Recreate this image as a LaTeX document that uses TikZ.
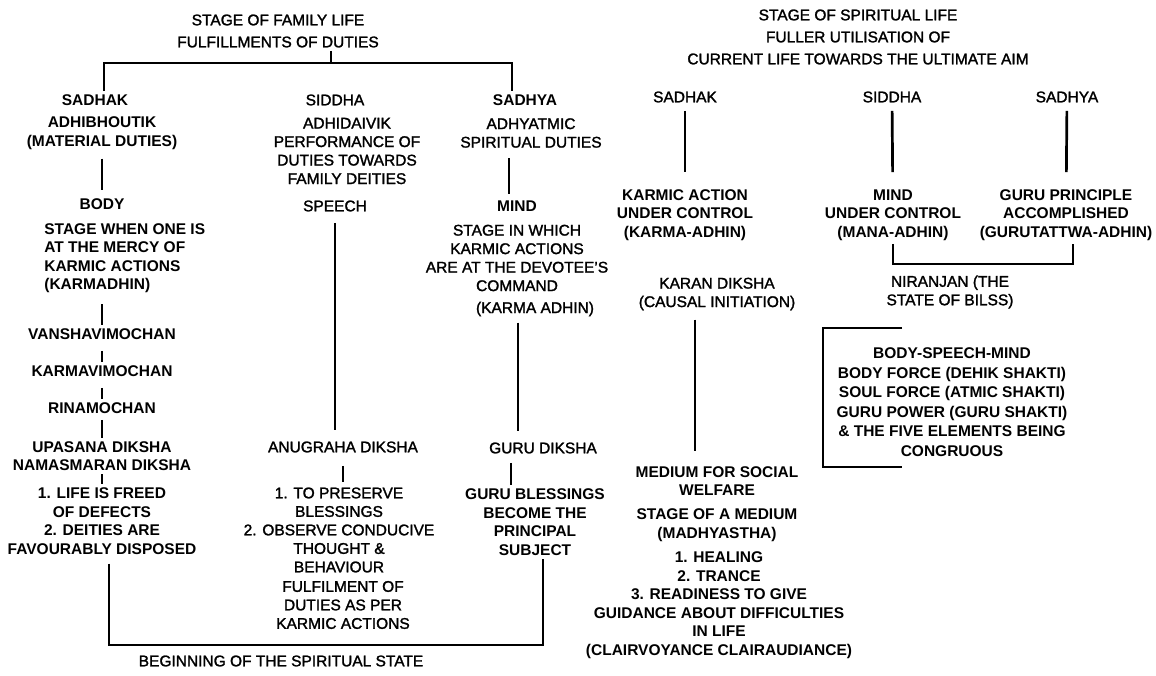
\documentclass[tikz,border=0pt]{standalone}
\usepackage{fontspec}
\setmainfont{Liberation Sans}[UprightFeatures={FakeBold=1.6}]
\newfontfamily\heavyfont{Liberation Sans Bold}
\usetikzlibrary{positioning}

\newcommand{\lblfont}{\fontsize{15.5}{18.5}\selectfont}
\newcommand{\ttlfont}{\fontsize{15.5}{22}\selectfont}
\newcommand{\boxfont}{\fontsize{15.5}{19.5}\selectfont}

\begin{document}
\begin{tikzpicture}[x=1pt,y=-1pt,line width=2.7pt,
    lbl/.style={font=\lblfont,align=center,inner sep=2pt},
    blbl/.style={font=\lblfont\heavyfont,align=center,inner sep=2pt},
    ttl/.style={font=\ttlfont,align=center,inner sep=2pt}]

  \path[use as bounding box,fill=white] (0,0) rectangle (1156,676);

  % stage of family life
  \node[ttl] (famTitle) at (278,31) {STAGE OF FAMILY LIFE\\FULFILLMENTS OF DUTIES};
  \coordinate (famBar) at (331,63);
  \node[blbl] (sadhakF) at (95,100) {SADHAK};
  \node[lbl] (siddhaF) at (335,100) {SIDDHA};
  \node[blbl] (sadhyaF) at (525,100) {SADHYA};

  \node[blbl] (adhib) [below of=sadhakF,node distance=33pt,xshift=7pt] {ADHIBHOUTIK\\(MATERIAL DUTIES)};
  \node[blbl] (body) [below of=adhib,node distance=71pt] {BODY};
  \node[blbl,align=left,anchor=west] (mercy) at (41,258) {STAGE WHEN ONE IS\\AT THE MERCY OF\\KARMIC ACTIONS\\(KARMADHIN)};
  \node[blbl] (vansha) [below of=body,node distance=130pt] {VANSHAVIMOCHAN};
  \node[blbl] (karmav) [below of=vansha,node distance=37pt] {KARMAVIMOCHAN};
  \node[blbl] (rina) [below of=karmav,node distance=37pt] {RINAMOCHAN};
  \node[blbl] (upasana) [below of=rina,node distance=48pt] {UPASANA DIKSHA\\NAMASMARAN DIKSHA};
  \node[blbl] (lifeF) [below of=upasana,node distance=65pt] {1. LIFE IS FREED\\OF DEFECTS\\2. DEITIES ARE\\FAVOURABLY DISPOSED};

  \node[lbl] (adhid) [below of=siddhaF,node distance=51pt,xshift=12pt] {ADHIDAIVIK\\PERFORMANCE OF\\DUTIES TOWARDS\\FAMILY DEITIES};
  \node[lbl] (speech) [below of=siddhaF,node distance=106pt] {SPEECH};
  \node[lbl] (anugraha) [below of=speech,node distance=241pt,xshift=8pt] {ANUGRAHA DIKSHA};
  \node[lbl] (preserve) [below of=anugraha,node distance=83pt,xshift=-4pt] {1. TO PRESERVE\\BLESSINGS\\2. OBSERVE CONDUCIVE\\THOUGHT \&\\BEHAVIOUR};
  \node[lbl] (fulfil) [below of=preserve,node distance=75pt,xshift=4pt] {FULFILMENT OF\\DUTIES AS PER\\KARMIC ACTIONS};

  \node[lbl] (adhyat) [below of=sadhyaF,node distance=33pt,xshift=6pt] {ADHYATMIC\\SPIRITUAL DUTIES};
  \node[blbl] (mindF) [below of=sadhyaF,node distance=106pt,xshift=-8pt] {MIND};
  \node[lbl] (stageWhich) [below of=mindF,node distance=52pt] {STAGE IN WHICH\\KARMIC ACTIONS\\ARE AT THE DEVOTEE’S\\COMMAND};
  \node[lbl] (karmaAdhin) [below of=stageWhich,node distance=51pt,xshift=18pt] {(KARMA ADHIN)};
  \node[lbl] (guruDiksha) [below of=karmaAdhin,node distance=139pt,xshift=8pt] {GURU DIKSHA};
  \node[blbl] (guruBless) [below of=guruDiksha,node distance=74pt,xshift=-8pt] {GURU BLESSINGS\\BECOME THE\\PRINCIPAL\\SUBJECT};

  \node[lbl] (beginning) at (281,661) {BEGINNING OF THE SPIRITUAL STATE};
  \coordinate (botBar) at (281,645);

  % stage of spiritual life
  \node[ttl] (spTitle) at (858,37) {STAGE OF SPIRITUAL LIFE\\FULLER UTILISATION OF\\CURRENT LIFE TOWARDS THE ULTIMATE AIM};
  \node[lbl] (sadhakS) at (685,97) {SADHAK};
  \node[lbl] (siddhaS) at (892,97) {SIDDHA};
  \node[lbl] (sadhyaS) at (1067,97) {SADHYA};
  \node[blbl] (karmicS) [below of=sadhakS,node distance=118pt] {KARMIC ACTION\\UNDER CONTROL\\(KARMA-ADHIN)};
  \node[blbl] (mindS) [below of=siddhaS,node distance=118pt,xshift=1pt] {MIND\\UNDER CONTROL\\(MANA-ADHIN)};
  \node[blbl] (guruPrin) [below of=sadhyaS,node distance=118pt,xshift=-1pt] {GURU PRINCIPLE\\ACCOMPLISHED\\(GURUTATTWA-ADHIN)};
  \coordinate (niBar) at (983,264);
  \node[lbl] (niranjan) [below of=mindS,node distance=77pt,xshift=57pt] {NIRANJAN (THE\\STATE OF BILSS)};
  \node[lbl] (karan) [below of=karmicS,node distance=79pt,xshift=32pt] {KARAN DIKSHA\\(CAUSAL INITIATION)};
  \node[blbl] (medium) [below of=karan,node distance=187pt] {MEDIUM FOR SOCIAL\\WELFARE};
  \node[blbl] (madhya) [below of=medium,node distance=44pt] {STAGE OF A MEDIUM\\(MADHYASTHA)};
  \node[blbl] (healing) [below of=madhya,node distance=80pt,xshift=2pt] {1. HEALING\\2. TRANCE\\3. READINESS TO GIVE\\GUIDANCE ABOUT DIFFICULTIES\\IN LIFE\\(CLAIRVOYANCE CLAIRAUDIANCE)};
  \node[blbl,font=\boxfont\heavyfont] (forces) [below of=niranjan,node distance=110pt,xshift=2pt] {BODY-SPEECH-MIND\\BODY FORCE (DEHIK SHAKTI)\\SOUL FORCE (ATMIC SHAKTI)\\GURU POWER (GURU SHAKTI)\\\& THE FIVE ELEMENTS BEING\\CONGRUOUS};
  \coordinate (boxTop) at (902,328);
  \coordinate (boxTL) at (823,328);
  \coordinate (boxBL) at (823,467);
  \coordinate (boxBot) at (902,467);

  % feet of the offset connectors
  \coordinate (mfTop) at ([xshift=-8pt]mindF.north);
  \coordinate (kaFoot) at ([xshift=-17pt]karmaAdhin.south);
  \coordinate (gdFoot) at ([xshift=-32pt]guruDiksha.south);
  \coordinate (kdFoot) at ([xshift=-22pt]karan.south);

  % brackets
  \draw (famTitle.south -| famBar) -- (famBar);
  \draw ([xshift=9pt]sadhakF.north) |- (famBar) -| ([xshift=-13pt]sadhyaF.north);
  \draw[shorten <=6pt] ([xshift=7pt]lifeF.south) |- (botBar) -| ([xshift=8pt]guruBless.south);
  \draw (mindS.south) |- (niBar) -| ([xshift=7pt]guruPrin.south);
  \draw (boxTop) -- (boxTL) -- (boxBL) -- (boxBot);

  \path
    (adhib) edge[shorten <=6pt,shorten >=5pt] (body)
    (vansha.north |- mercy.south) edge[shorten <=8pt] (vansha)
    (vansha) edge[shorten <=8pt] (karmav)
    (karmav) edge[shorten <=8pt] (rina)
    (rina) edge[shorten <=3pt] (upasana)
    (upasana) edge (lifeF)
    (speech) edge[shorten <=8pt,shorten >=8pt] (speech |- anugraha.north)
    (anugraha) edge[shorten <=10pt,shorten >=2pt] (anugraha |- preserve.north)
    (mfTop |- adhyat.south) edge[shorten <=7pt,shorten >=3pt] (mfTop)
    (kaFoot) edge[shorten <=3pt,shorten >=8pt] (kaFoot |- guruDiksha.north)
    (gdFoot) edge[shorten <=6pt] (gdFoot |- guruBless.north)
    (sadhakS) edge[shorten <=5pt,shorten >=14pt] (karmicS)
    (siddhaS) edge[shorten <=5pt,shorten >=14pt] (mindS)
    (sadhyaS) edge[shorten <=5pt,shorten >=14pt] (guruPrin)
    (kdFoot) edge[shorten <=6pt,shorten >=12pt] (kdFoot |- medium.north)
    ;
\end{tikzpicture}
\end{document}
